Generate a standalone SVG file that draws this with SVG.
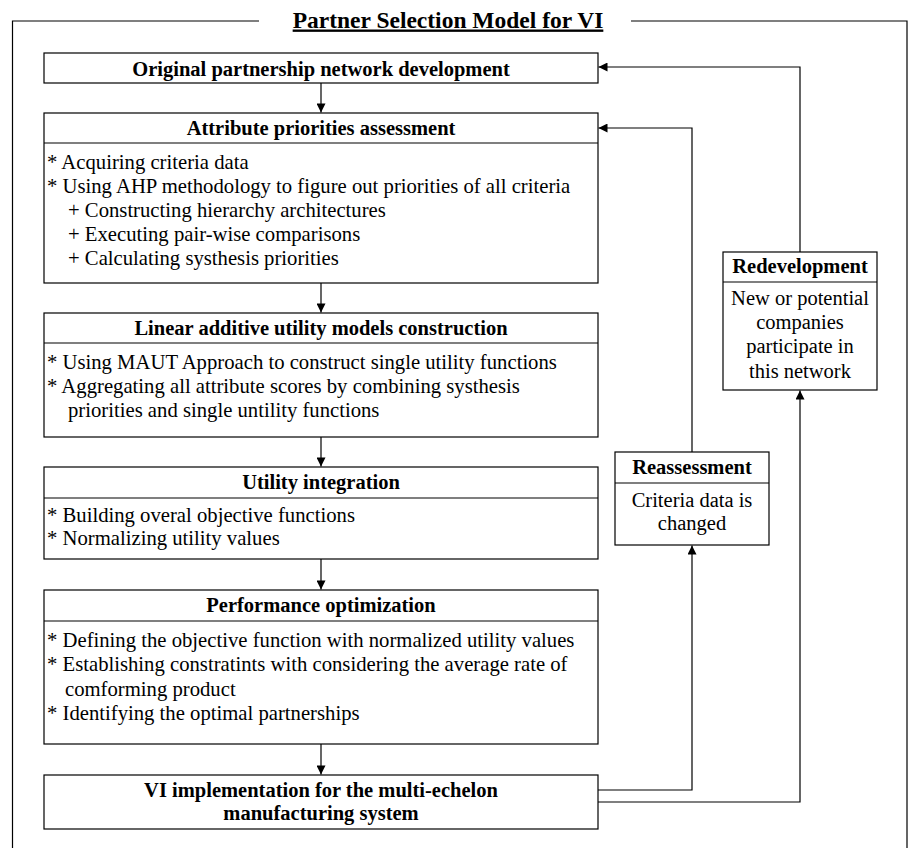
<svg xmlns="http://www.w3.org/2000/svg" width="912" height="848" viewBox="0 0 912 848">
<defs>
<style>
.box{fill:#fff;stroke:#000;stroke-width:1.2}
.div{stroke:#000;stroke-width:1.2}
.hd{font-family:"Liberation Serif","Times New Roman",serif;font-weight:bold;font-size:20.5px;fill:#000;text-anchor:middle}
.bd{font-family:"Liberation Serif","Times New Roman",serif;font-size:20.7px;fill:#000}
.bc{font-family:"Liberation Serif","Times New Roman",serif;font-size:20.5px;fill:#000;text-anchor:middle}
.ttl{font-family:"Liberation Serif","Times New Roman",serif;font-weight:bold;font-size:23.5px;fill:#000;text-anchor:middle;text-decoration:underline}
.cn{fill:none;stroke:#000;stroke-width:1.2}
.frame{fill:none;stroke:#000;stroke-width:1.2}
</style>
<marker id="ah" markerUnits="userSpaceOnUse" markerWidth="10" markerHeight="9" refX="9" refY="4.5" orient="auto" viewBox="0 0 9 9">
<path d="M0,0 L9,4.5 L0,9 z" fill="#000"/>
</marker>
</defs>
<rect width="912" height="848" fill="#fff"/>
<g id="frame">
<path class="frame" d="M12.5,848 V21 H259 M631,21 H907 V848"/>
<text class="ttl" x="448" y="27.5">Partner Selection Model for VI</text>
</g>
<g id="connectors">
<path class="cn" d="M321,83 V112.5" marker-end="url(#ah)"/>
<path class="cn" d="M321,283 V312.5" marker-end="url(#ah)"/>
<path class="cn" d="M321,437 V466.5" marker-end="url(#ah)"/>
<path class="cn" d="M321,559 V589.5" marker-end="url(#ah)"/>
<path class="cn" d="M321,744 V774.5" marker-end="url(#ah)"/>
<path class="cn" d="M598,790 H692 V545.5" marker-end="url(#ah)"/>
<path class="cn" d="M598,802 H800 V390.5" marker-end="url(#ah)"/>
<path class="cn" d="M692,452 V128 H598.5" marker-end="url(#ah)"/>
<path class="cn" d="M800,252 V67 H598.5" marker-end="url(#ah)"/>
</g>
<g id="n1">
<rect class="box" x="44" y="53" width="554" height="30"/>
<text class="hd" x="321" y="75.5">Original partnership network development</text>
</g>
<g id="n2">
<rect class="box" x="44" y="113" width="554" height="170"/>
<line class="div" x1="44" y1="143" x2="598" y2="143"/>
<text class="hd" x="321" y="134.5">Attribute priorities assessment</text>
<text class="bd" x="47" y="169">* Acquiring criteria data</text>
<text class="bd" x="47" y="193">* Using AHP methodology to figure out priorities of all criteria</text>
<text class="bd" x="68" y="217">+ Constructing hierarchy architectures</text>
<text class="bd" x="68" y="241">+ Executing pair-wise comparisons</text>
<text class="bd" x="68" y="265">+ Calculating systhesis priorities</text>
</g>
<g id="n3">
<rect class="box" x="44" y="313" width="554" height="124"/>
<line class="div" x1="44" y1="343" x2="598" y2="343"/>
<text class="hd" x="321" y="335">Linear additive utility models construction</text>
<text class="bd" x="47" y="369">* Using MAUT Approach to construct single utility functions</text>
<text class="bd" x="47" y="393">* Aggregating all attribute scores by combining systhesis</text>
<text class="bd" x="68" y="417">priorities and single untility functions</text>
</g>
<g id="n4">
<rect class="box" x="44" y="467" width="554" height="92"/>
<line class="div" x1="44" y1="498" x2="598" y2="498"/>
<text class="hd" x="321" y="489">Utility integration</text>
<text class="bd" x="47" y="522">* Building overal objective functions</text>
<text class="bd" x="47" y="545">* Normalizing utility values</text>
</g>
<g id="n5">
<rect class="box" x="44" y="590" width="554" height="154"/>
<line class="div" x1="44" y1="621" x2="598" y2="621"/>
<text class="hd" x="321" y="612">Performance optimization</text>
<text class="bd" x="47" y="647">* Defining the objective function with normalized utility values</text>
<text class="bd" x="47" y="671">* Establishing constratints with considering the average rate of</text>
<text class="bd" x="65" y="696">comforming product</text>
<text class="bd" x="47" y="720">* Identifying the optimal partnerships</text>
</g>
<g id="n6">
<rect class="box" x="44" y="775" width="554" height="54"/>
<text class="hd" x="321" y="797">VI implementation for the multi-echelon</text>
<text class="hd" x="321" y="820">manufacturing system</text>
</g>
<g id="n7">
<rect class="box" x="723" y="252" width="154" height="138"/>
<line class="div" x1="723" y1="282" x2="877" y2="282"/>
<text class="hd" x="800" y="273">Redevelopment</text>
<text class="bc" x="800" y="305">New or potential</text>
<text class="bc" x="800" y="329">companies</text>
<text class="bc" x="800" y="353">participate in</text>
<text class="bc" x="800" y="378">this network</text>
</g>
<g id="n8">
<rect class="box" x="615" y="452" width="154" height="93"/>
<line class="div" x1="615" y1="483" x2="769" y2="483"/>
<text class="hd" x="692" y="474">Reassessment</text>
<text class="bc" x="692" y="507">Criteria data is</text>
<text class="bc" x="692" y="530">changed</text>
</g>
</svg>
